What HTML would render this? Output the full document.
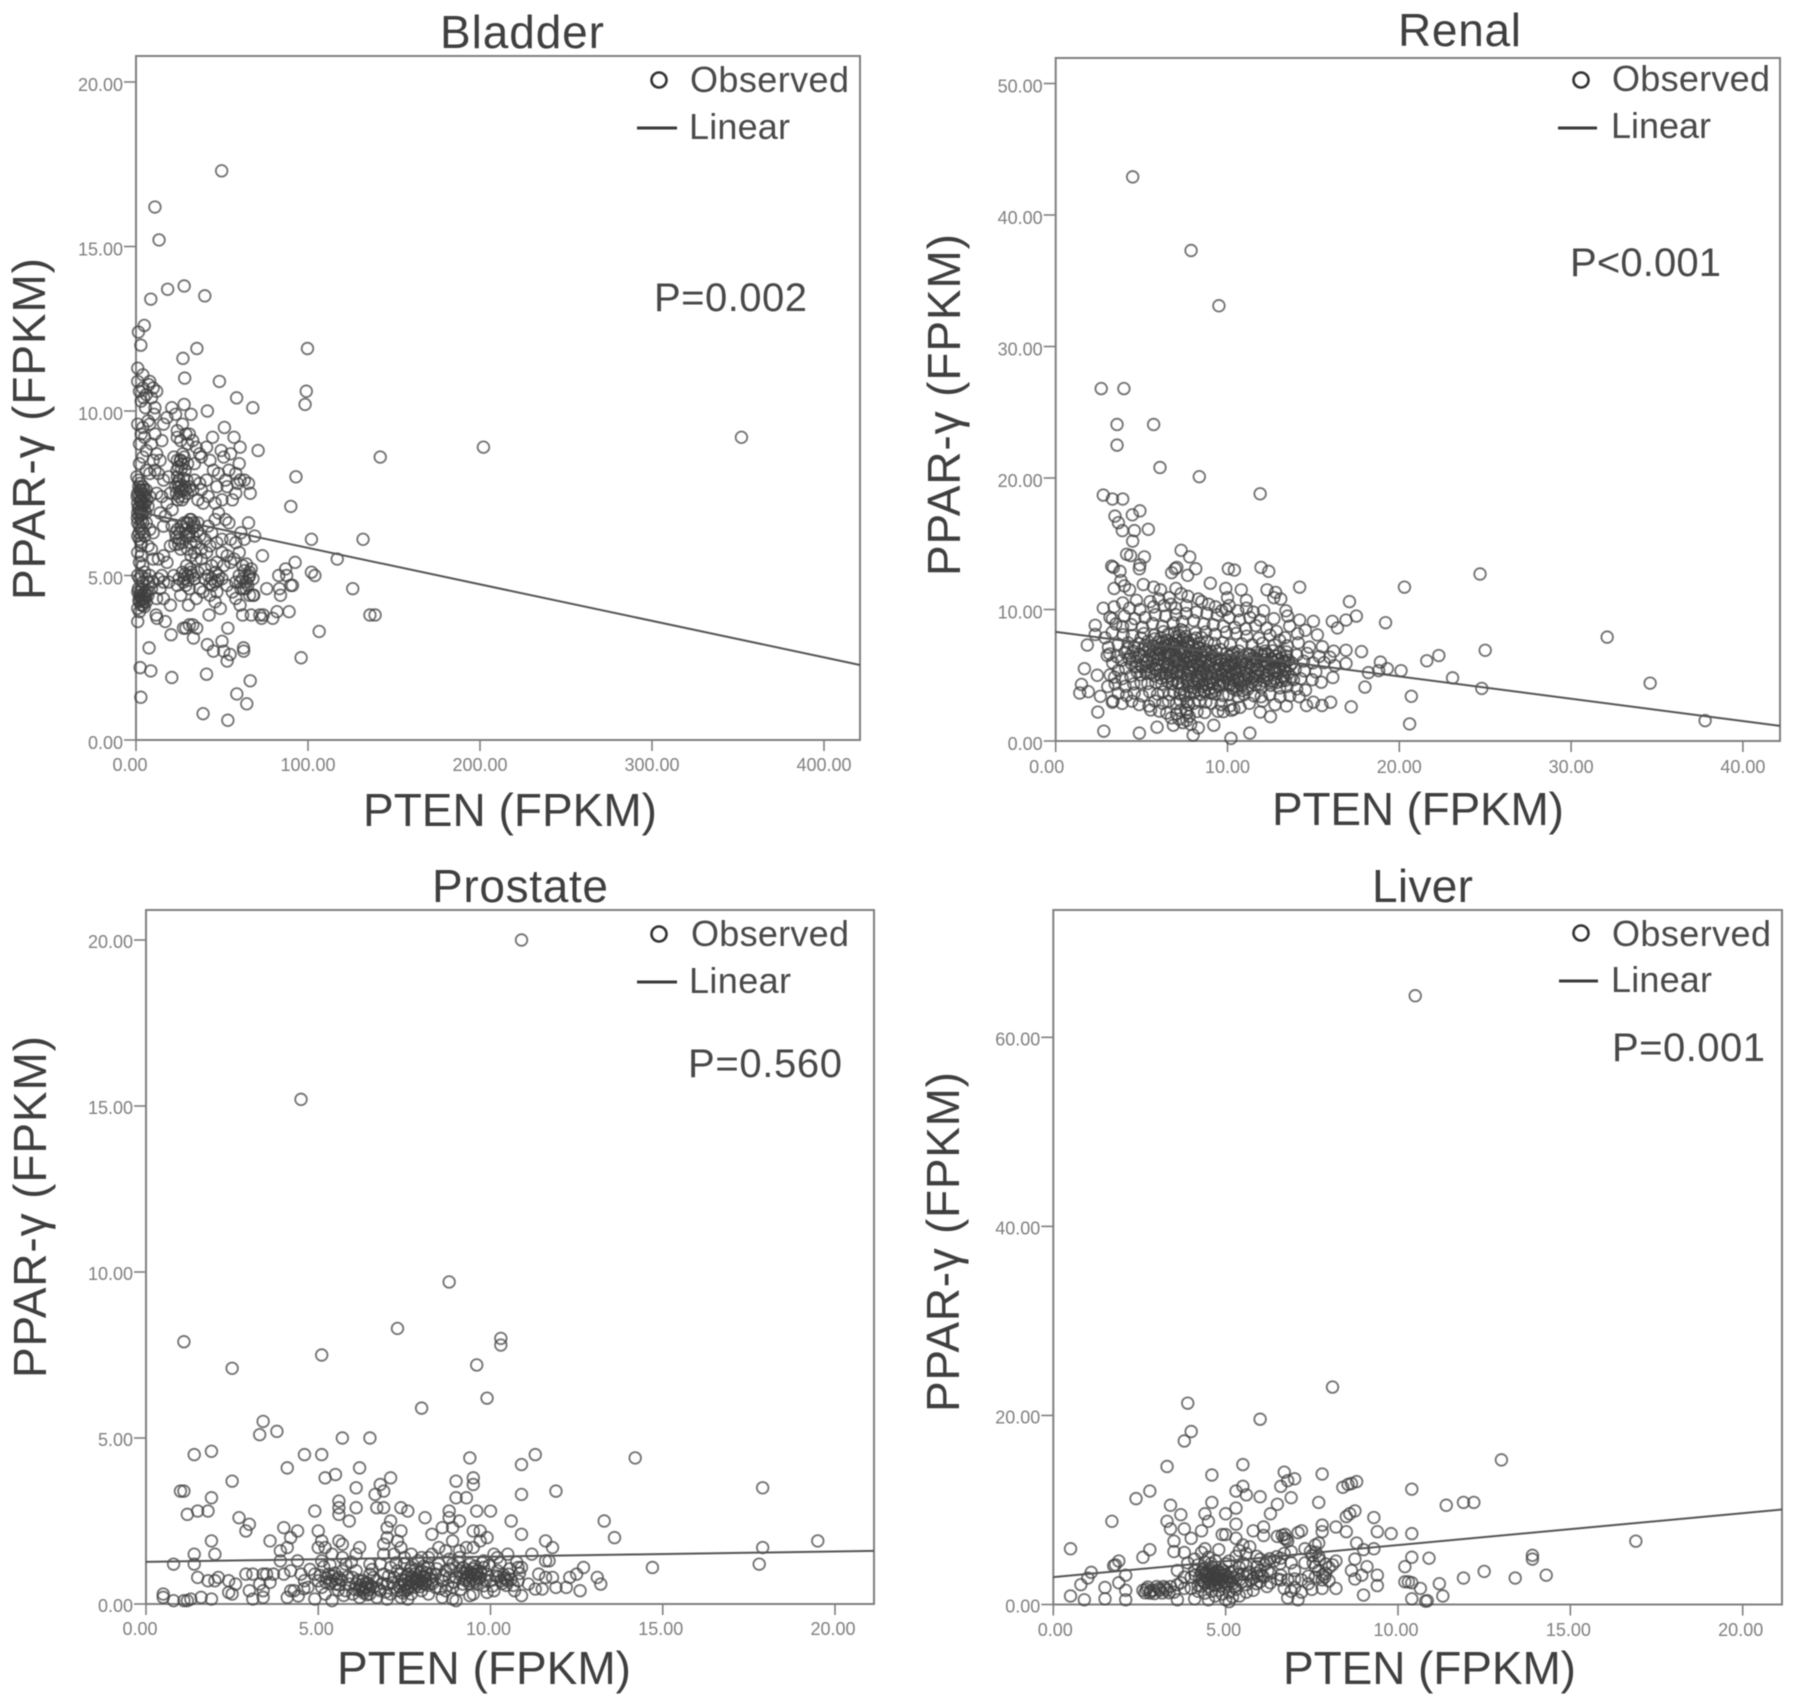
<!DOCTYPE html>
<html lang="en">
<head>
<meta charset="utf-8">
<title>PTEN vs PPAR-γ scatter plots</title>
<style>
html,body{margin:0;padding:0;background:#fff;}
body{width:1795px;height:1708px;overflow:hidden;}
svg{display:block;filter:blur(0.6px);}
text{font-family:"Liberation Sans",sans-serif;}
.title,.axis-title{font-size:46px;fill:#3f3f3f;}
.legend-text{font-size:36px;fill:#4a4a4a;}
.p-text{font-size:40px;fill:#484848;}
.tick-label{font-size:18px;fill:#808080;}
</style>
</head>
<body>
<svg id="figure" xmlns="http://www.w3.org/2000/svg" width="1795" height="1708" viewBox="0 0 1795 1708">
  <rect x="0" y="0" width="1795" height="1708" fill="#fff"/>

  <g id="panel-bladder">
    <text class="title" x="440" y="48" textLength="164">Bladder</text>
    <text class="axis-title" x="363" y="826" textLength="294">PTEN (FPKM)</text>
    <text class="axis-title" transform="translate(45,600) rotate(-90)" textLength="342">PPAR-γ (FPKM)</text>
    <circle cx="662" cy="80" r="7.5" fill="none" stroke="#333" stroke-width="2.6" transform="translate(-3,0)"/>
    <text class="legend-text" x="690" y="92" textLength="159">Observed</text>
    <line x1="637" x2="677" y1="128" y2="128" stroke="#3a3a3a" stroke-width="3"/>
    <text class="legend-text" x="689" y="139" textLength="101">Linear</text>
    <text class="p-text" x="654" y="311" textLength="153">P=0.002</text>
  </g>

  <g id="panel-renal">
    <text class="title" x="1398" y="46" textLength="123">Renal</text>
    <text class="axis-title" x="1272" y="825" textLength="292">PTEN (FPKM)</text>
    <text class="axis-title" transform="translate(960,576) rotate(-90)" textLength="342">PPAR-γ (FPKM)</text>
    <circle cx="1581" cy="80" r="7.5" fill="none" stroke="#333" stroke-width="2.6"/>
    <text class="legend-text" x="1612" y="91" textLength="158">Observed</text>
    <line x1="1558" x2="1597" y1="128" y2="128" stroke="#3a3a3a" stroke-width="3"/>
    <text class="legend-text" x="1611" y="138" textLength="100">Linear</text>
    <text class="p-text" x="1570" y="276" textLength="151">P&lt;0.001</text>
  </g>

  <g id="panel-prostate">
    <text class="title" x="432" y="902" textLength="176">Prostate</text>
    <text class="axis-title" x="337" y="1684" textLength="294">PTEN (FPKM)</text>
    <text class="axis-title" transform="translate(46,1378) rotate(-90)" textLength="342">PPAR-γ (FPKM)</text>
    <circle cx="659" cy="934" r="7.5" fill="none" stroke="#333" stroke-width="2.6"/>
    <text class="legend-text" x="691" y="946" textLength="158">Observed</text>
    <line x1="637" x2="677" y1="982" y2="982" stroke="#3a3a3a" stroke-width="3"/>
    <text class="legend-text" x="689" y="993" textLength="102">Linear</text>
    <text class="p-text" x="688" y="1077" textLength="154">P=0.560</text>
  </g>

  <g id="panel-liver">
    <text class="title" x="1372" y="902" textLength="101">Liver</text>
    <text class="axis-title" x="1283" y="1684" textLength="293">PTEN (FPKM)</text>
    <text class="axis-title" transform="translate(959,1412) rotate(-90)" textLength="340">PPAR-γ (FPKM)</text>
    <circle cx="1581" cy="933" r="7.5" fill="none" stroke="#333" stroke-width="2.6"/>
    <text class="legend-text" x="1612" y="946" textLength="159">Observed</text>
    <line x1="1559" x2="1598" y1="981" y2="981" stroke="#3a3a3a" stroke-width="3"/>
    <text class="legend-text" x="1611" y="992" textLength="101">Linear</text>
    <text class="p-text" x="1612" y="1061" textLength="153">P=0.001</text>
  </g>
</svg>

<script>
const bladderXTicks = [0,100,200,300,400];
const bladderYTicks = [0,5,10,15,20];
const bladderFit = [6.95,2.28];
const bladderPoints = [
[49.8,17.3],[11,16.2],[13.4,15.2],[8.6,13.4],[18.4,13.7],[28,13.8],[40,13.5],[4.8,12.6],[1.4,12.4],[2.8,12],[35.4,11.9],[27.3,11.6],[28.3,11],[48.5,10.9],[58.5,10.4],[67.9,10.1],[99.7,11.9],[99,10.6],[98.3,10.2],[41.5,10],[28,10.2],[20.8,10.1],[32,9.9],
[202,8.9],[352,9.2],[142,8.6],[93,8],[90,7.1],[71,8.8],[102,6.1],[132,6.1],[117,5.5],[92.5,5.4],[87,5.2],[87.6,5],[83,5],[90,4.7],[91,4.7],[84,4.4],[76,4.6],[83.4,4.6],[102,5.1],[104,5],[126,4.6],[136,3.8],[139,3.8],[106.5,3.3],[96,2.5],[89,3.9],[82,3.9],[79.5,3.7],[72,3.8],[74,3.8],[73,3.7],[67,3.8],[62,3.8],[60.5,4.1],[68,4.4],[68.5,4.4],[73.5,5.6],[69,6.2],[65.4,6.6],[66.4,7.5],[65.4,7.8],[60.5,7.9],[60,8.4],[60.5,8.9],[57,9.2],[51.4,9.5],[44.5,9.2],[41,8.9],[49.5,8.8],
[53.4,3.4],[35.3,3.4],[27.6,3.4],[33.4,3.1],[20.4,3.2],[50,3],[41.5,2.9],[45,2.7],[51,2.7],[54.7,2.6],[53,2.4],[62.5,2.8],[62.6,2.7],[7.6,2.8],[2.4,2.2],[8.6,2.1],[20.8,1.9],[41,2],[66.4,1.8],[58.6,1.4],[64.4,1.1],[2.8,1.3],[39,0.8],[53.4,0.6],[1,3.6],[11.7,3.8],[12.2,3.7],[17,3.6],[20,4.1],[30.5,4.1],[42.5,3.8],[49,4],[46,4.2],[31,3.5],[29,3.4],[33,3.5],
[1,10.9],[4,10.7],[7.5,10.8],[12,10.6],[6,10.5],[3,10.3],[5.5,10.1],[4.5,10.4],[2,10.6],[8,10.9],[9,10.4],[11,10.1],[10.5,9.9],[10,10.7],[4,11.1],[1,11.3],
[3,9.3],[5,9.2],[8,9.6],[11,9.3],[15,9.1],[18,9.8],[23,9.9],[16,9.6],[24,9.4],[27,9.6],[29,9.3],[31,9.3],[24,9.2],[26,9.1],[30,9],[33,9.1],[2,9],[7,9.7],[1,9.6],[4,9.5],[9,9],[12,8.7],[6,8.8],[14,8.5],[35,8.9],[37,8.7],[28,8.6],[24,8.5],[22,8.6],[26,8.5],[27,8.4],[30,8.4],[34,8.4],[38,8.6],[43,8.5],[51,8.6],[54,8.2],[55,8.7],[45,8.2],[48,8.1],[58,8.1],[10,8.5],[11,8.2],[13,8.1],[2,8.4],[4,8.6],[6,8.2],[8,8.1],[16,7.9],[19,8],[24,8],[25,7.9],[34,7.9],[37,7.8],[41,7.9],[52,7.9],[53,7.7],[59,7.8],[63,7.9],[47,7.7],[38,7.6],[23,7.7],[25,7.7],[27,7.6],[29,7.6],[31,7.7],[33,7.6],[25,7.4],[28,7.4],[30,7.5],[36,7.3],[39,7.2],[42,7.4],[46,7.2],[50,7.3],[56,7.3],[58,7.5],[12,7.5],[15,7.4],[18,7.2],[20,7.5],[21,7],
[0.5,8],[1.5,7.9],[2.5,7.8],[3,7.6],[4,7.7],[1,7.5],[2,7.4],[3,7.3],[5,7.4],[6,7.6],[1,7.2],[2,7.1],[3,7],[4,7.2],[5,7],[7,7.1],[8,7.4],[1,6.9],[2,6.8],[3,6.7],[4,6.9],[1,6.6],[2,6.5],[3,6.4],[4,6.6],[6,6.6],[1,6.2],[2,6.1],[3,6],[5,6.2],[8,6.4],[10,6.3],[7,5.9],[9,5.8],[1,5.7],[3,5.6],[2,5.4],[4,5.3],
[14,6.9],[17,6.8],[16,6.5],[21,6.5],[23,6.3],[25,6.1],[27,6],[24,6.4],[28,6.6],[30,6.6],[32,6.7],[34,6.5],[36,6.6],[31,6.3],[33,6.2],[35,6],[29,6.2],[26,5.8],[37,6.2],[40,6.1],[42,6.5],[44,6.3],[46,6.7],[48,6.9],[52,6.7],[54,6.6],[55,6.1],[58,6],[61,6.3],[63,6.1],[50,6.1],[47,6],[43,5.9],[41,5.7],[38,5.8],[34,5.7],[32,5.6],[30,5.8],[35,5.5],[38,5.5],[50,5.7],[53,5.6],[57,5.5],[60,5.7],[62,5.3],[66,5.1],[55,5.4],[51,5.3],[47,5.4],[44,5.3],[40,5.2],[20,5.9],[13,5.5],[16,5.6],[18,5.4],[10,5.5],[15,5],
[1,5],[2,4.9],[3,5],[4,4.8],[5,5.1],[6,4.9],[8,5],[10,4.8],[13,4.9],[16,4.8],[19,4.8],[22,5],[25,4.9],[27,5.1],[28,4.9],[30,5],[32,5.1],[34,4.9],[36,5.1],[29,4.7],[31,4.6],[24,4.7],[37,4.6],[40,4.9],[42,5],[44,4.9],[46,4.8],[48,5],[50,4.9],[53,4.7],[39,4.5],[43,4.4],[47,4.5],[58,4.8],[60,5],[62,4.9],[64,4.8],[66,5],[68,4.9],[61,4.6],[64,4.6],[66,4.4],[58,4.3],[56,4.5],[1,4.5],[2,4.4],[3,4.3],[4,4.4],[5,4.3],[6,4.2],[2,4.2],[3,4.1],[4,4.1],[5,4.5],[7,4.4],[9,4.6],[1,4],[2,3.9],[12,4.3],[14,4.6],[16,4.3],[26,4.4],[35,4.3],
[1.6,7.7],[2.2,7.6],[3.4,7.5],[4.7,7.6],[5.3,7.2],[0.7,7.4],[1.3,7.05],[2.6,7.25],[3.6,7.1],[4.4,7.45],[5.7,6.9],[0.8,6.75],[2.3,6.95],[3.3,6.85],[4.3,6.3],[6.2,7.3],[1.8,6.3],[2.9,5.9],[1.4,4.6],[2.5,4.5],[3.6,4.6],[4.6,4.2],[5.6,4.4],[1.7,4.25],[2.8,4.35],[3.8,4.25],[4.9,4.05],[6.4,4.55],[7.4,4.8],
[24.5,7.8],[26.3,7.75],[27.6,7.95],[24.2,7.3],[25.6,7.55],[28.4,7.7],[26.8,7.3],[23.5,7.5],[29.6,7.9],[25.8,8.5],[24.7,8.3],[27.2,8.7],[26.4,8.25],[28.6,8.2],[23.8,8.2],
[29.5,6.6],[31.4,6.7],[32.8,6.45],[30.6,6.2],[28.8,6.4],[33.6,6.6],[31.8,6],[35.6,6.35],[23.4,6.15],[24.8,5.95],[25.5,6.3],[22.6,5.95],[26.3,6.5],
[28.6,5.05],[30.4,4.85],[31.6,5.2],[29.4,5.3],[33,5],[27.5,4.8],[44.5,4.7],[46.4,5.1],[43,4.75],[47.6,4.85],[63,5.15],[65,4.7],[62.6,4.6],[67,5.2],[64.2,5.35],[60.6,4.8],[65.6,4.95]
];

const renalXTicks = [0,10,20,30,40];
const renalYTicks = [0,10,20,30,40,50];
const renalFit = [8.3,1.15];
const renalPoints = [
[4.48,42.9],[7.88,37.3],[9.5,33.1],[2.65,26.8],[3.97,26.8],[3.57,24.07],[5.7,24.07],[3.57,22.5],[6.07,20.8],[8.36,20.1],[11.9,18.8],[2.77,18.7],[3.3,18.4],[3.9,18.4],[3.45,17.1],[3.65,16.6],[3.88,16],[4.46,17.2],[4.9,17.5],[4.58,16],[5.39,16.1],[4.48,15.2],[4.13,14.2],[4.36,14.1],[5.16,14],[4.9,13.4],[4.87,13.1],[3.26,13.3],[3.36,13.2],[3.74,12.9],[7.3,14.5],[7.8,14],[8.15,13.1],[6.95,13.1],[7.05,13.2],[6.75,12.8],[7.68,12.6],[10.05,13.1],[10.4,13],[11.95,13.2],[12.4,12.9],[14.2,11.7],[9,12],[9.9,11.6],[10.8,11.5],[12.3,11.5],[12.8,11.3],[12.7,10.9],[13.1,10.8],[11.1,10.7],[10,10.9],[8.3,10.8],[11.1,10.1],[10.1,10.3],[9.66,9.9],[13.4,9.9],[13.5,9.5],[14.2,9.2],[15,9.1],[16.1,9.1],[16.4,8.6],[16.9,9.2],[17.1,10.6],[17.5,9.5],[19.2,9],[20.3,11.7],[16.9,6.9],[17.8,6.8],[16.9,5.9],[18.2,5.2],[18.9,6],[18.8,5.35],[19.3,5.5],[20.1,5.35],[21.6,6.1],[22.3,6.5],[23.1,4.8],[18,4.1],[17.2,2.6],[16,2.95],[15.5,2.7],[15,2.95],[14.6,2.7],[20.7,3.4],[20.6,1.3],[12.5,1.85],[11.9,2.2],[11.3,0.6],[10.2,0.2],[9.2,1.2],[8.3,1],[8,0.45],[5.9,1.05],[4.87,0.6],[2.8,0.75],[2.45,2.2],[1.84,7.3],[2.3,8.1],[2.3,8.8],[1.67,5.5],[1.5,4.3],[1.4,3.65],[1.9,3.75],[2.42,5],[2.6,3.4],[3.3,2.95],[2.77,10.1],[3.16,9.4],[3.3,9.3],[3,6.5],[6.85,1.2],[7.4,1.4],
[24.7,12.7],[25,6.9],[32.1,7.9],[34.6,4.4],[37.8,1.55],[24.8,4],
[3.8,12.2],[4,11.8],[4.3,11.5],[3.4,11.6],[5.1,11.9],[5.7,11.7],[6.1,11.5],[7,11.6],[7.3,11.2],[7.7,11],[6.6,10.9],[6,10.8],[5.5,10.6],[4.7,10.7],[3.9,10.5],[3.4,10.2],[4.3,10.1],[4.9,10],[5.7,10.2],[6.3,10.3],[6.7,10.4],[7,10.1],[7.6,10.3],[8.5,10.6],[8.9,10.4],[9.3,10.2],[9.9,10],[10.6,9.9],[11.5,9.8],[12.1,9.9],[12.7,9.3],[11.9,9.2],[11.3,9.4],[10.7,9.2],[10.1,9.4],[9.4,9.6],[8.8,9.7],[8.2,9.8],[7.6,9.7],[7,9.6],[6.4,9.5],[5.8,9.6],[5.2,9.4],[4.6,9.3],[4,9.5],[3.5,8.9],[3.9,8.7],[4.4,8.85],[5.05,8.65],[5.63,8.94],[6.21,8.72],[6.84,8.98],[7.38,9.07],[8.03,9.16],[8.62,8.91],[9.17,8.83],[9.76,8.72],[10.43,8.64],[11.06,8.53],[11.64,8.77],[12.27,8.58],[12.85,8.33],[13.62,8.74],[14.53,8.42],[15.23,8.07],[14.08,8.16],[13.34,7.86],[12.47,8.05],[11.83,7.82],[11.12,7.97],[10.51,8.18],[9.94,8.27],[9.28,8.11],[8.73,8.29],[8.14,8.21],[7.46,8.36],[6.92,8.23],[6.27,8.31],[5.73,8.04],[5.14,8.17],[4.46,8.02],[3.93,8.08],[3.29,8.27],[2.87,7.85],[3.07,7.13],[3.64,7.36],[4.21,7.47],[4.83,7.41],[5.37,7.58],[5.96,7.52],[6.48,7.67],[6.97,7.62],[7.23,7.46],[7.42,7.78],[7.74,7.43],[8.02,7.67],[8.37,7.42],[8.83,7.59],[9.24,7.41],[9.72,7.48],[10.16,7.33],[10.84,7.38],[11.43,7.32],[12.04,7.43],[12.73,7.31],[13.03,7.66],[13.47,7.24],[14.12,7.47],[14.77,7.14],[15.52,7.17],[16.18,6.83],
[3.14,6.62],[3.57,6.41],[4.03,6.74],[4.52,6.83],[5.07,6.97],[5.46,6.82],[6.04,6.93],[6.26,7.06],[6.63,6.94],[6.88,7.12],[7.17,6.87],[7.53,7.04],[7.82,6.84],[8.13,6.96],[8.43,6.74],[8.74,6.93],[9.06,6.78],[9.33,6.86],[9.58,6.97],[9.93,6.64],[10.34,6.72],[10.66,6.84],[11.24,6.63],[11.73,6.76],[12.16,6.64],[12.62,6.86],[13.04,6.73],[13.43,6.78],[14.03,6.54],[14.64,6.66],[15.34,6.43],[15.96,6.37],
[3.32,5.94],[3.83,6.13],[4.28,6.24],[4.76,6.36],[5.23,6.14],[5.64,6.33],[5.97,6.26],[6.33,6.47],[6.58,6.24],[6.94,6.43],[7.16,6.22],[7.47,6.46],[7.84,6.27],[8.08,6.36],[8.46,6.14],[8.67,6.34],[9.03,6.16],[9.34,6.27],[9.57,6.23],[9.88,6.14],[10.23,6.06],[10.54,6.27],[10.87,6.03],[11.33,6.24],[11.66,6.06],[12.13,6.17],[12.54,6.24],[12.87,6.14],[13.36,6.04],[13.77,5.93],[14.43,6.07],[14.97,5.94],[15.63,5.96],[16.24,5.74],
[3.17,5.03],[3.64,5.36],[4.07,5.54],[4.63,5.63],[4.96,5.74],[5.43,5.66],[5.76,5.53],[6.24,5.76],[6.47,5.64],[6.83,5.57],[7.13,5.73],[7.36,5.62],[7.73,5.56],[8.04,5.68],[8.27,5.74],[8.64,5.53],[8.87,5.72],[9.23,5.56],[9.46,5.74],[9.83,5.54],[10.06,5.66],[10.43,5.44],[10.67,5.63],[11.04,5.46],[11.37,5.57],[11.76,5.43],[12.24,5.64],[12.57,5.47],[13.03,5.54],[13.37,5.36],[13.94,5.43],[14.47,5.33],[15.14,5.26],
[3.43,4.86],[3.87,4.74],[4.37,4.93],[4.93,5.04],[5.27,5.13],[5.74,4.96],[6.06,5.04],[6.43,5.14],[6.67,4.96],[7.04,5.16],[7.27,4.94],[7.64,5.03],[7.86,5.14],[8.23,4.96],[8.47,5.13],[8.84,4.94],[9.07,5.16],[9.43,4.97],[9.66,5.14],[10.04,4.94],[10.27,5.06],[10.63,4.84],[10.96,4.93],[11.44,4.84],[11.77,4.96],[12.33,5.04],[12.76,4.77],[13.27,4.84],[13.84,4.66],[14.26,4.74],[14.93,4.66],[15.46,4.47],[16.13,4.83],
[3.03,4.14],[3.46,4.33],[4.04,4.16],[4.54,4.34],[4.97,4.43],[5.36,4.37],[5.83,4.46],[6.17,4.33],[6.54,4.53],[6.77,4.36],[7.14,4.44],[7.37,4.33],[7.66,4.54],[8.06,4.36],[8.33,4.56],[8.56,4.34],[8.94,4.53],[9.16,4.36],[9.54,4.26],[9.77,4.44],[10.14,4.24],[10.37,4.16],[10.83,4.23],[11.17,4.14],[11.63,4.26],[11.97,4.06],[12.53,4.23],[13.04,4.04],[13.46,4.14],[14.03,3.96],[14.54,3.87],
[3.64,3.63],[4.13,3.46],[4.57,3.64],[5.04,3.43],[5.47,3.74],[5.93,3.56],[6.27,3.73],[6.63,3.54],[6.86,3.73],[7.24,3.57],[7.47,3.64],[7.83,3.74],[8.07,3.66],[8.44,3.54],[8.66,3.73],[9.04,3.64],[9.27,3.57],[9.73,3.46],[10.07,3.54],[10.63,3.36],[10.97,3.53],[11.54,3.44],[11.96,3.37],[12.47,3.54],[13.06,3.36],[13.63,3.44],[14.17,3.37],
[3.34,3.04],[3.87,2.86],[4.43,3.03],[4.86,2.77],[5.43,2.66],[5.77,3.04],[6.23,2.87],[6.57,3.03],[7.03,2.84],[7.26,3.06],[7.63,2.96],[8.04,2.87],[8.37,3.03],[8.74,2.96],[9.07,2.87],[9.63,2.76],[10.14,2.67],[10.73,2.56],[11.27,2.87],[12.04,3.03],[12.77,2.76],[13.43,2.67],[5.53,2.36],[6.04,2.27],[6.46,2.13],[7.03,2.06],[7.27,2.34],[7.64,2.16],[7.77,1.87],[8.23,2.24],[8.67,2.17],[9.44,2.26],[9.76,2.23],[10.23,2.34],[10.37,2.43],[6.73,1.76],[7.17,1.67],[7.63,1.57],[7.86,1.27],
[6.12,7.84],[6.54,8.12],[6.88,7.41],[7.02,7.93],[7.28,8.47],[7.34,7.12],[7.51,6.73],[7.58,7.96],[7.66,6.41],[7.71,7.26],[7.93,6.58],[7.97,7.21],[8.18,6.64],[8.24,5.97],[8.32,7.14],[8.51,6.49],[8.58,5.36],[8.71,6.08],[8.78,5.12],[8.91,6.57],[8.96,5.83],[9.11,4.76],[9.14,6.44],[9.27,5.31],[9.36,5.97],[9.41,4.62],[9.52,5.52],[9.62,6.13],[9.68,5.03],[9.74,4.58],[9.84,5.84],[9.91,4.83],[9.97,5.32],[10.08,6.41],[10.12,4.71],[10.21,5.27],[10.31,5.84],[10.38,4.56],[10.47,5.14],[10.58,4.66],[10.72,5.36],[10.81,5.83],[10.93,4.51],[11.08,5.21],[8.42,4.87],[8.53,4.17],[8.62,3.86],[8.81,4.27],[8.92,3.93],[9.01,4.44],[9.21,4.04],[9.32,3.83],[9.47,4.13],[7.06,6.17],[7.12,5.24],[7.22,5.86],[7.31,6.62],[7.41,5.33],[7.57,5.94],[7.62,4.74],[7.76,5.27],[7.89,6.06],[7.96,4.63],[8.11,5.43],[8.21,4.71],[8.36,5.28],[6.41,6.72],[6.52,5.86],[6.61,7.33],[6.71,6.61],[6.79,5.24],[6.91,6.06],[5.86,6.66],[5.92,5.83],[6.11,6.21],[6.18,7.14],[12.08,6.46],[12.22,5.93],[12.34,6.56],[12.42,5.27],[12.63,6.04],[12.71,5.57],[12.82,6.47],[12.93,5.13],[13.08,5.87],[13.14,6.31],[13.22,4.96],[13.31,5.66],[13.42,6.47],[13.52,5.14],[13.64,5.73],[13.72,4.87],[11.52,6.33],[11.61,5.26],[11.87,5.76],[11.93,6.53],[7.58,2.37],[7.72,2.76],
[4.16,7.03],[4.34,6.48],[4.42,5.87],[4.58,7.13],[4.67,6.07],[4.74,5.24],[4.88,6.62],[4.97,7.83],[5.04,5.62],[5.13,6.46],[5.21,7.26],[5.28,5.36],[5.34,6.03],[5.41,7.07],[5.52,6.57],[5.56,5.14],[5.67,7.23],[5.71,6.13],[5.78,7.77],[5.83,5.43],[5.91,7.04],[6.02,6.54],[6.08,5.37],[6.14,4.77],[6.22,7.56],[6.36,5.96],[6.39,7.24],[6.44,4.86],[6.56,6.68],[6.66,5.51],[6.74,7.47],[6.82,4.67],[6.96,7.27],[7.08,4.43],[7.19,8.04],[7.33,3.94],[7.44,6.08],[7.56,3.43],[7.68,7.51],[7.79,4.13],[7.91,5.77],[8.06,4.07],[8.16,7.83],[8.29,3.87],[8.41,5.73],[8.49,7.87],[8.68,6.81],
[10.03,5.71],[10.13,4.33],[10.26,6.57],[10.33,3.97],[10.42,6.03],[10.52,3.87],[10.61,6.38],[10.69,4.43],[10.77,6.02],[10.86,3.83],[10.98,6.42],[11.03,4.73],[11.11,5.96],[11.18,3.94],[11.26,5.03],[11.34,6.56],[11.41,4.47],[11.49,5.73],[11.58,4.93],[11.69,6.27],[11.73,4.61],[11.82,5.43],[11.91,4.33],[12.02,5.17],[12.11,4.57],[12.19,6.84],[12.31,4.73],[12.38,5.83],[12.49,4.56],[12.58,6.23],[12.67,4.53],[12.78,5.33],[12.88,4.46],[12.98,6.22],[13.16,4.57],[13.27,6.07],[13.38,4.62],[13.56,6.16]
];

const prostateXTicks = [0,5,10,15,20];
const prostateYTicks = [0,5,10,15,20];
const prostateFit = [1.27,1.6];
const prostatePoints = [
[10.9,20],[4.5,15.2],[8.8,9.7],[7.3,8.3],[1.1,7.9],[10.3,8],[10.3,7.8],[5.1,7.5],[2.5,7.1],[9.6,7.2],[9.9,6.2],[8,5.9],[3.4,5.5],[3.3,5.1],[3.8,5.2],[5.7,5],[6.5,5],[1.4,4.5],[1.9,4.6],[4.6,4.5],[5.1,4.5],[4.1,4.1],[6.2,4.1],[9.4,4.4],[10.9,4.2],[11.3,4.5],[14.2,4.4],[2.5,3.7],[5.2,3.8],[5.5,3.9],[6.1,3.5],[7.1,3.8],[6.8,3.6],[6.9,3.4],[6.65,3.3],[9,3.7],[9.5,3.8],[9.5,3.6],[10.9,3.3],[11.9,3.4],[17.9,3.5],[1,3.4],[1.1,3.4],[1.9,3.2],[5.6,3.1],[5.6,2.9],[5.6,2.7],[6.1,2.9],[4.9,2.8],[6.7,2.9],[6.9,2.9],[7.4,2.9],[7.6,2.8],[8.8,2.8],[9,3.2],[9.3,3.2],[9.6,2.8],[10,2.8],[1.5,2.8],[1.8,2.8],[1.2,2.7],[2.7,2.6],[3,2.4],[2.9,2.2],[5.9,2.5],[8.1,2.6],[8.8,2.6],[9.1,2.5],[10.6,2.5],[13.3,2.5],[13.6,2],[4,2.3],[4.4,2.2],[5,2.2],[7.1,2.5],[7,2.3],[7.4,2.2],[8.3,2.1],[8.6,2.3],[8.9,2.3],[9.5,2.2],[9.7,2.2],[9.9,2],[10.9,2.1],[1.9,1.9],[3.6,1.9],[4.2,2],[5.1,1.9],[5.6,1.9],[5.7,1.8],[7,2],[6.9,1.8],[7.3,1.9],[8.9,1.9],[9.7,1.9],[11.6,1.9],[11.8,1.7],[19.5,1.9],[17.9,1.7],[17.8,1.2],[14.7,1.1],
[0.8,1.2],[1.4,1.5],[2,1.5],[1.4,1.2],[1.5,0.8],[1.8,0.7],[2,0.7],[2.1,0.8],[2.4,0.7],[2.6,0.6],[2.9,0.9],[3.1,0.9],[3.4,0.9],[3.5,0.9],[3.9,1.6],[3.9,1.3],[4.1,1.7],[4.2,1],[4.4,1.3],[4,0.9],[3.7,0.9],[0.5,0.3],[0.5,0.2],[1.1,0.1],[1.2,0.1],[1.3,0.15],[1.6,0.2],[1.9,0.15],[0.8,0.1],[2.4,0.35],[2.5,0.3],[3,0.4],[3.1,0.15],[3.4,0.2],[3.4,0.4],[3.6,0.65],[4.1,0.2],[4.2,0.4],[4.3,0.4],[4.7,0.5],[4.9,0.15],[5,1.7],[5.1,1.3],[5.2,1.7],[5.4,1.5],[5.7,1.4],[6.1,1.5],[6.2,1.7],[6.5,1.2],[6.9,1.5],[7.4,1.7],[7.7,1.5],[7.2,1.5],[8,1.4],[8.3,1.5],[8.5,1.7],[8.7,1.6],[9.1,1.6],[9.3,1.7],[9.5,1.7],[9.8,1.3],[10.1,1.5],[10.2,1.4],[10.5,1.5],[10.8,1.1],[10.9,1.1],[11.2,1.5],[11.6,1.3],[11.7,1.3],
[4.9,0.9],[5,0.7],[5.1,0.5],[5.3,0.9],[5.4,0.7],[5.5,0.6],[5.6,0.8],[5.7,1],[5.8,0.4],[5.9,0.6],[6,0.3],[6,0.8],[6.1,1],[6.2,0.5],[6.2,0.2],[6.3,0.4],[6.3,0.7],[6.4,0.5],[6.5,0.3],[6.5,0.9],[6.6,0.5],[6.7,0.2],[6.7,0.7],[6.8,0.4],[6.9,0.9],[7,0.6],[7.1,0.3],[7.1,1.1],[7.2,0.5],[7.2,0.8],[7.3,0.4],[7.3,1],[7.4,0.2],[7.4,0.6],[7.4,0.9],[7.5,0.4],[7.5,0.7],[7.5,1.2],[7.6,0.5],[7.6,0.9],[7.7,0.3],[7.7,0.7],[7.7,1.1],[7.8,0.5],[7.8,0.9],[7.9,0.6],[7.9,0.8],[7.9,1.3],[8,0.4],[8,0.7],[8,1],[8.1,0.6],[8.1,0.8],[8.2,0.3],[8.2,1.1],[8.3,0.7],[8.4,0.5],[8.4,0.9],[8.5,1.2],[8.6,0.7],[8.7,0.4],[8.7,1],[8.8,0.8],[8.9,0.5],[8.9,1.2],[9,0.1],[9,0.8],[9.1,1],[9.2,0.6],[9.2,1.1],[9.3,0.8],[9.3,0.95],[9.4,0.7],[9.4,1.2],[9.5,0.3],[9.5,0.9],[9.6,0.6],[9.6,1],[9.7,0.8],[9.8,0.55],[9.8,1.1],[9.9,0.35],[9.9,0.9],[10,0.7],[10.1,0.4],[10.2,1],[10.3,0.7],[10.4,0.8],[10.5,0.7],[10.6,0.75],[10.7,0.4],[10.8,0.7],[10.9,0.25],[11.1,0.6],[11.3,0.45],[11.4,0.9],[11.5,0.45],[11.6,0.8],[11.8,0.8],[11.9,0.5],[12.2,0.5],[12.3,0.8],[12.5,0.9],[12.6,0.4],[12.7,1.1],[13.1,0.8],[13.2,0.6],[6.1,0.6],[6.4,0.65],[6.6,0.8],[5.2,0.3],[5.4,0.1],[7,0.15],[7.6,0.15],[8.6,0.2],[8.9,0.15],[9.4,0.25],[4.5,0.9],[4.6,0.7],[3.3,0.6],[6.8,1.2],[7.5,1.4],[8.2,1.4],[8.8,1.35],[5.8,1.2],[9.1,1.4],
[5.25,0.78],[5.35,0.62],[5.44,0.84],[5.52,0.74],[5.61,0.58],[5.22,0.66],[5.48,0.93],[5.66,0.72],[6.18,0.42],[6.24,0.58],[6.32,0.33],[6.36,0.5],[6.42,0.28],[6.44,0.62],[6.48,0.43],[6.53,0.55],[6.16,0.72],[6.27,0.47],
[7.36,0.52],[7.42,0.74],[7.46,0.33],[7.52,0.58],[7.56,0.83],[7.58,0.42],[7.62,0.64],[7.66,1.02],[7.68,0.52],[7.72,0.82],[7.76,0.62],[7.82,0.74],[7.84,1.04],[7.86,0.66],[7.92,0.72],[7.94,0.52],[7.96,0.94],[8.02,0.62],[8.04,0.83],[8.06,1.14],[8.12,0.7],[8.14,0.94],[8.18,0.56],[8.24,0.76],[8.26,0.9],[8.32,0.62],
[9.16,0.84],[9.22,0.92],[9.26,0.72],[9.32,1.02],[9.36,0.86],[9.38,0.62],[9.42,0.94],[9.44,0.8],[9.48,1.06],[9.52,0.74],[9.54,0.86],[9.56,1.14],[9.58,0.68],[9.62,0.9],[9.66,0.76],[9.72,0.96],[10.24,0.82],[10.34,0.62],[10.38,0.88],[10.44,0.74],[10.52,0.9],[10.46,0.56],
[4.42,0.24],[4.58,0.46],[4.76,1.04],[5.06,0.86],[5.16,1.12],[5.34,1.18],[5.58,0.42],[5.74,0.26],[5.86,0.82],[5.96,1.26],[6.06,0.44],[6.56,1.04],[6.76,0.46],[6.86,0.62],[6.96,0.36],[7.04,0.84],[7.16,0.64],[7.26,1.24],[8.44,1.06],[8.54,0.46],[8.64,0.86],[8.76,0.56],[8.84,1.06],[8.94,0.66],[9.06,1.26],[9.14,0.44],[9.76,1.24],[9.86,0.72],[9.96,1.16],[10.06,0.54],[10.16,0.84],[10.28,1.24],[10.56,1.06],[10.66,0.56],[10.76,1.26],[10.84,0.92]
];

const liverXTicks = [0,5,10,15,20];
const liverYTicks = [0,20,40,60];
const liverFit = [2.9,10.05];
const liverPoints = [
[10.5,64.4],[8.1,23],[3.9,21.3],[6,19.6],[4,18.3],[3.8,17.3],[13,15.3],[3.3,14.6],[5.5,14.8],[4.6,13.7],[6.7,14],[7.8,13.8],[7,13.3],[6.8,13.1],[8.8,13],[8.65,12.8],[8.55,12.7],[8.4,12.4],[6.6,12.5],[5.5,12.5],[5.3,12],[5.6,11.6],[6,11.4],[2.8,12],[2.4,11.2],[3.4,10.5],[4.6,10.8],[7.7,10.8],[6.9,11.3],[6.5,10.6],[10.4,12.2],[11.4,10.5],[11.9,10.8],[12.2,10.8],[5.3,10.2],[6.3,9.6],[5,9.6],[4.4,9.6],[3.7,9.5],[3.3,8.8],[1.7,8.8],[4.5,8.8],[8.75,9.9],[8.6,9.6],[8.5,9.3],[9.3,9.2],[5.3,8.5],[3.4,8],[3.8,8],[4.3,7.8],[5.8,7.8],[6.1,8.2],[7.8,8.4],[8.2,8.2],[7.8,7.7],[8.5,7.7],[9.4,7.7],[9.8,7.5],[10.4,7.5],[7.2,7.8],[7.1,7.6],[4,7],[3.5,6.7],[4.9,7.4],[5,7.4],[5.3,7],[6.1,7.3],[6.5,7.2],[6.7,7],[6.8,6.7],[7.6,6.3],[7.7,6.5],[8.8,6.5],[9,5.8],[9.3,5.9],[16.9,6.7],[0.5,5.9],[2.8,5.8],[2.6,5],[1.9,4.6],[1.8,4.2],[1.75,4.1],[3.5,5.6],[3.8,5.5],
[13.9,5.2],[13.9,4.8],[14.3,3.1],[13.4,2.8],[12.5,3.5],[11.9,2.8],[11.2,2.2],[11.3,0.9],[10.9,4.9],[10.4,5],[10.2,4],[10.2,2.4],[10.3,2.4],[10.4,2.3],[10.65,1.7],[10.4,0.6],[10.85,0.4],[10.8,0.35],[9,1],[9.4,2],[9.4,3.1],[9.1,4],[8.75,4.8],[8.95,3.1],[8.75,2.7],[8.65,3.6],[8.2,4.6],[8.2,1.7],
[1.1,3.4],[1,2.8],[0.8,2.1],[0.5,0.9],[0.9,0.5],[1.5,0.6],[1.5,1.8],[2.1,0.5],[2.1,1.5],[1.9,2.3],[2.1,3.1],[2.6,1.5],[2.7,1.6],[2.8,1.2],[2.9,1.5],[3,1.9],[3.1,1.5],[3.2,1.9],[3.3,1.5],[3.4,1.9],[3.5,1.3],[3.6,0.5],[3.6,3.6],[3.7,2.3],[3.8,1.7],[3.9,4.4],[4,2.9],[4.1,0.6],[4.1,3.6],[4.2,2],[4.2,4.2],[4.3,2.6],[4.3,3.4],[4.3,5.5],[4.4,1.2],[4.4,2.2],[4.4,3.1],[4.4,4.5],[4.5,0.5],[4.5,1.9],[4.5,2.7],[4.5,3.5],[4.5,5],[4.6,1.4],[4.6,2.4],[4.6,3],[4.6,4],[4.7,0.9],[4.7,2],[4.7,2.8],[4.7,3.4],[4.7,4.6],[4.8,1.5],[4.8,2.3],[4.8,3.1],[4.8,5.8],[4.9,1.1],[4.9,2.7],[4.9,3.7],[5,0.5],[5,1.9],[5,2.5],[5,3.2],[5,4.3],[5.1,1.3],[5.1,0.3],[5.1,2.9],[5.2,0.8],[5.2,2.2],[5.2,3.5],[5.3,5.1],[5.3,1.6],[5.4,2.6],[5.4,5.7],[5.4,0.9],[5.5,3.2],[5.5,4.4],[5.5,6.3],[5.6,2.1],[5.6,1.3],[5.6,5.4],[5.7,3.4],[5.7,6.1],[5.8,2.8],[5.8,1.5],[5.9,4],[5.9,2.2],[6,3.6],[6,4.8],[6.1,2.9],[6.2,1.9],[6.2,4.6],[6.3,3.3],[6.4,4.6],[6.5,2.7],[6.6,4.9],[6.6,3.1],[6.7,1.7],[6.7,5.4],[6.8,2.6],[6.8,0.7],[6.9,1.4],[6.9,4.4],[7,2.7],[7,3.6],[7.1,0.5],[7.2,1.3],[7.2,2.6],[7.3,5.9],[7.4,3],[7.4,2.2],[7.5,1.6],[7.5,5.2],[7.6,4],[7.6,2.9],[7.7,3.6],[7.7,5.1],[7.8,1.7],[7.8,2.6],[7.9,3.3],[7.9,4.3],[8,2.5],[8,3.9],[8.1,4.2],[6,2.4],[6.3,2.3],[5.4,3.9],[5.9,3.3],[6.6,2.6],[7,1.8],[4.2,1.4],[4,1.7],[3.8,2.9],[4.1,4.8],[3.6,2.1],[5.6,4.1],[6.9,5.6],[7.3,4.4],[5.1,4.6],[4.4,5.9],[5.9,5.1],
[4.12,3.12],[4.24,2.84],[4.33,3.66],[4.36,2.42],[4.42,3.36],[4.46,2.94],[4.52,3.21],[4.54,2.46],[4.56,3.74],[4.62,2.74],[4.64,3.24],[4.66,2.14],[4.72,3.04],[4.74,2.58],[4.76,3.62],[4.82,2.72],[4.84,3.37],[4.86,1.96],[4.92,3.06],[4.94,2.36],[4.96,3.46],[5.04,2.84],[5.06,2.16],[5.14,3.36],[5.16,2.46],[5.24,2.84],[5.26,1.84],[4.28,1.92],[4.38,3.84],[4.58,4.34],
[2.66,1.24],[2.74,1.84],[2.82,1.42],[2.94,1.16],[3.06,1.68],[3.16,1.22],[3.26,1.72],[3.36,1.24],
[6.64,7.32],[6.72,7.42],[6.76,6.92],[6.58,4.32],[7.46,5.62],[7.54,4.42],[7.62,5.52],[7.72,4.72],[7.82,3.12],[7.88,2.92],[6.14,4.22],[6.28,4.84],[6.48,5.06],[5.92,3.02],[6.04,3.12],[6.22,3.56],[5.62,3.16],[5.74,2.56],[5.46,2.36],[5.34,3.16]
];

const panels = [
  {name:'bladder',points:bladderPoints,fit:bladderFit,xTicks:bladderXTicks,yTicks:bladderYTicks,xDigits:2,left:136,right:860,top:56,bottom:740,xUnit:1.72,yUnit:32.9,labelY:771,firstLabelDx:-6,labelDx:0,yLabelDy:7},
  {name:'renal',points:renalPoints,fit:renalFit,xTicks:renalXTicks,yTicks:renalYTicks,xDigits:2,left:1055.7,right:1780,top:58,bottom:741,xUnit:17.18,yUnit:13.15,labelY:773,firstLabelDx:-9,labelDx:0,yLabelDy:7},
  {name:'prostate',points:prostatePoints,fit:prostateFit,xTicks:prostateXTicks,yTicks:prostateYTicks,xDigits:2,left:146,right:874,top:910,bottom:1604,xUnit:34.45,yUnit:33.2,labelY:1635,firstLabelDx:-6,labelDx:-2,yLabelDy:6},
  {name:'liver',points:liverPoints,fit:liverFit,xTicks:liverXTicks,yTicks:liverYTicks,xDigits:2,left:1053.3,right:1782,top:910,bottom:1604.5,xUnit:34.47,yUnit:9.453,labelY:1636,firstLabelDx:2,labelDx:-2,yLabelDy:6}
];

const SVG_NS = 'http://www.w3.org/2000/svg';
const AXIS_COLOR = '#7f7f7f';

function make(tag, attrs, parent) {
  const el = document.createElementNS(SVG_NS, tag);
  for (const key in attrs) el.setAttribute(key, attrs[key]);
  parent.appendChild(el);
  return el;
}

function drawPanel(p) {
  const host = document.getElementById('panel-' + p.name);
  const xScale = v => p.left + v * p.xUnit;
  const yScale = v => p.bottom - v * p.yUnit;

  const frame = make('rect', {x:p.left, y:p.top, width:p.right - p.left, height:p.bottom - p.top, fill:'none', stroke:AXIS_COLOR, 'stroke-width':2}, host);
  
  

  p.xTicks.forEach((v, i) => {
    const x = xScale(v);
    const tick = make('line', {x1:x, x2:x, y1:p.bottom, y2:p.bottom + 11, stroke:AXIS_COLOR, 'stroke-width':1.6}, host);
    
    
    const label = make('text', {x:x + (i === 0 ? p.firstLabelDx : p.labelDx), y:p.labelY, 'text-anchor':'middle', class:'tick-label'}, host);
    
    
    label.textContent = v.toFixed(p.xDigits);
  });

  p.yTicks.forEach(v => {
    const y = yScale(v);
    const tick = make('line', {x1:p.left - 12, x2:p.left, y1:y, y2:y, stroke:AXIS_COLOR, 'stroke-width':1.6}, host);
    
    
    const label = make('text', {x:p.left - 13, y:y + p.yLabelDy + 2, 'text-anchor':'end', class:'tick-label'}, host);
    
    
    label.textContent = v.toFixed(2);
  });

  const markers = make('g', {fill:'none', stroke:'#3e3e3e', 'stroke-width':1.8, 'stroke-opacity':0.72}, host);
  
  
  p.points.forEach(pt => {
    const c = make('circle', {cx:xScale(pt[0]), cy:yScale(pt[1]), r:5.8}, markers);
    
    
  });

  const fitLine = make('line', {x1:p.left, y1:yScale(p.fit[0]), x2:p.right, y2:yScale(p.fit[1]), stroke:'#555', 'stroke-width':2}, host);
  
  
}

panels.forEach(drawPanel);
</script>
</body>
</html>
